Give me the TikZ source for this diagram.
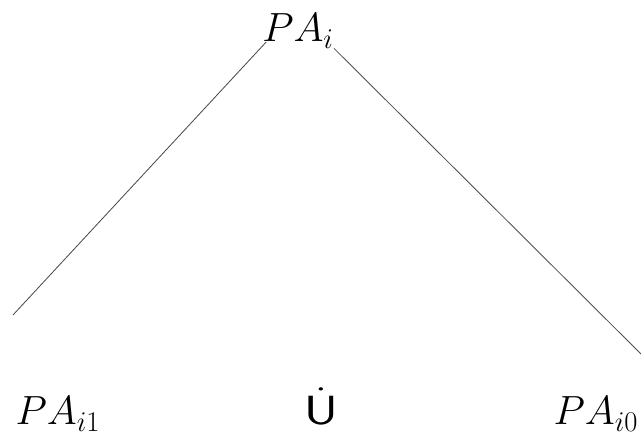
\RequirePackage{fix-cm}
\documentclass[tikz,border=0pt]{standalone}
\usepackage{tikz}

\begin{document}
\begin{tikzpicture}[x=0.025cm,y=-0.025cm,
  lbl/.style={font=\fontsize{29}{32}\selectfont,inner sep=0pt,anchor=base},
  branch/.style={line width=0.6pt,black!70}]
  \useasboundingbox (0,0) rectangle (641,439);
  \node[lbl] (pai) at (298,42) {$PA_i$};
  \foreach \x/\n/\t in
  {
     58/pai1/{$PA_{i1}$},
    321/cup/{\scalebox{1.3}[1]{$\dot{\mathsf{U}}$}},
    596/pai0/{$PA_{i0}$}%
  }
  {
    \node[lbl] (\n) at (\x,425) {\t};
  }
  \coordinate (endl) at (13,315);
  \coordinate (endr) at (641,354);
  \draw[branch] ([xshift=3pt]pai.base west) -- (endl);
  \draw[branch] (pai.south east) -- (endr);
\end{tikzpicture}
\end{document}
